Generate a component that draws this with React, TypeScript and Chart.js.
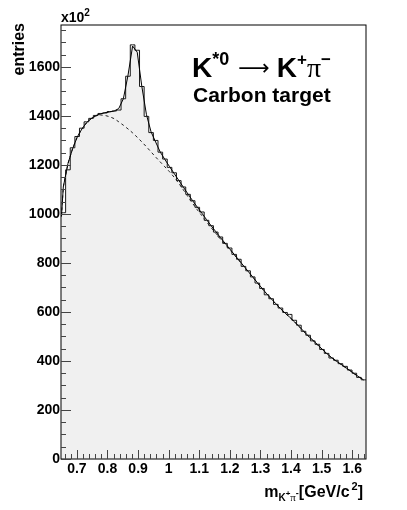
import React, { useEffect, useRef } from "react";
import { Chart, registerables } from "chart.js";

Chart.register(...registerables);

// ---- data ----
const binLow = 0.648;
const binWidth = 0.0151;
const xMin = 0.648;
const xMax = 1.645;
const yMin = 0;
const yMax = 1771;

const histValues = [
  1005, 1180, 1270, 1316, 1350, 1376, 1390, 1402, 1410, 1412,
  1418, 1420, 1424, 1470, 1562, 1690, 1668, 1520, 1398, 1332,
  1300, 1252, 1224, 1190, 1168, 1136, 1110, 1080, 1054, 1027,
  1008, 974, 952, 926, 906, 880, 861, 835, 815, 786,
  768, 743, 718, 696, 670, 654, 631, 616, 598, 590,
  566, 546, 521, 505, 482, 468, 447, 431, 412, 403,
  389, 378, 363, 350, 333, 323,
];

const fitStartMass = 0.6495;
const fitStartValue = 990;
const fitValues = [
  1110, 1205, 1266, 1313, 1346, 1372, 1389, 1401, 1408, 1413,
  1416, 1420, 1430, 1470, 1565, 1685, 1660, 1520, 1405, 1335,
  1293, 1252, 1222, 1193, 1165, 1137, 1109, 1081, 1054, 1028,
  1003, 977, 952, 928, 904, 881, 858, 835, 812, 789,
  766, 743, 720, 697, 675, 654, 634, 614, 596, 579,
  561, 542, 522, 503, 485, 467, 449, 431, 415, 401,
  388, 375, 362, 348, 335, 323,
];

const bkgValues = [
  1110, 1205, 1266, 1313, 1346, 1371, 1388, 1399, 1404, 1402,
  1397, 1389, 1376, 1362, 1347, 1331, 1313, 1294, 1274, 1253,
  1232, 1212, 1192, 1172, 1150, 1125, 1098, 1070, 1043, 1017,
  993, 968, 944, 921, 898, 877, 855, 833, 811, 788,
  765, 742, 719, 696, 674, 653, 633, 613, 595, 578,
  560, 541, 521, 502, 484, 466, 448, 430, 414, 400,
  387, 374, 361, 347, 334, 322,
];

const xMajorTicks = [0.7, 0.8, 0.9, 1.0, 1.1, 1.2, 1.3, 1.4, 1.5, 1.6];
const xTickLabels = ["0.7", "0.8", "0.9", "1", "1.1", "1.2", "1.3", "1.4", "1.5", "1.6"];
const xMinorStep = 0.02;
const yMajorTicks = [0, 200, 400, 600, 800, 1000, 1200, 1400, 1600];
const yTickLabels = ["0", "200", "400", "600", "800", "1000", "1200", "1400", "1600"];
const yMinorStep = 50;

const SANS = '"Liberation Sans", Arial, Helvetica, sans-serif';
const SERIF = '"Liberation Serif", "DejaVu Serif", serif';

type Part = { t: string; font: string; dy: number; dx?: number };

function drawParts(ctx: CanvasRenderingContext2D, parts: Part[], x: number, y: number, align: "left" | "right") {
  const widths = parts.map((p) => {
    ctx.font = p.font;
    return ctx.measureText(p.t).width + (p.dx || 0);
  });
  const total = widths.reduce((a, b) => a + b, 0);
  let cx = align === "right" ? x - total : x;
  ctx.textAlign = "left";
  ctx.textBaseline = "alphabetic";
  parts.forEach((p, i) => {
    ctx.font = p.font;
    ctx.fillText(p.t, cx + (p.dx || 0), y + p.dy);
    cx += widths[i];
  });
}

const rootStylePlugin = {
  id: "rootStyle",
  afterDraw(chart: any) {
    const ctx: CanvasRenderingContext2D = chart.ctx;
    const { left, right, top, bottom } = chart.chartArea;
    const xs = chart.scales.x;
    const ys = chart.scales.y;
    ctx.save();
    // frame
    ctx.strokeStyle = "#000";
    ctx.lineWidth = 1;
    ctx.strokeRect(left, top, right - left, bottom - top);
    // x ticks (inward)
    ctx.strokeStyle = "#444";
    ctx.beginPath();
    const start = Math.ceil(xMin / xMinorStep - 1e-6) * xMinorStep;
    for (let v = start; v <= xMax + 1e-9; v += xMinorStep) {
      const px = Math.round(xs.getPixelForValue(v)) + 0.5;
      const isMajor = xMajorTicks.some((m) => Math.abs(m - v) < 1e-6);
      const len = isMajor ? 9 : 5;
      ctx.moveTo(px, bottom);
      ctx.lineTo(px, bottom - len);
    }
    // y ticks (inward)
    for (let v = yMin; v <= yMax + 1e-9; v += yMinorStep) {
      const py = Math.round(ys.getPixelForValue(v)) + 0.5;
      const isMajor = yMajorTicks.indexOf(v) >= 0;
      const len = isMajor ? 10 : 5;
      ctx.moveTo(left, py);
      ctx.lineTo(left + len, py);
    }
    ctx.stroke();

    ctx.fillStyle = "#000";
    // x10^2
    drawParts(ctx, [
      { t: "x10", font: `bold 14px ${SANS}`, dy: 0 },
      { t: "2", font: `bold 10px ${SANS}`, dy: -6 },
    ], left, 22, "left");

    // entries (rotated)
    ctx.save();
    ctx.translate(24, 23);
    ctx.rotate(-Math.PI / 2);
    ctx.font = `bold 16px ${SANS}`;
    ctx.textAlign = "right";
    ctx.textBaseline = "alphabetic";
    ctx.fillText("entries", 0, 0);
    ctx.restore();

    // title
    drawParts(ctx, [
      { t: "K", font: `bold 28px ${SANS}`, dy: 0 },
      { t: "*0", font: `bold 18px ${SANS}`, dy: -12 },
      { t: "⟶", font: `22px "DejaVu Sans", sans-serif`, dy: -2, dx: 9 },
      { t: "K", font: `bold 28px ${SANS}`, dy: 0, dx: 7 },
      { t: "+", font: `bold 17px ${SANS}`, dy: -12 },
      { t: "π", font: `28px ${SERIF}`, dy: 0 },
      { t: "−", font: `bold 17px ${SANS}`, dy: -12 },
    ], 192, 77, "left");

    drawParts(ctx, [{ t: "Carbon target", font: `bold 21px ${SANS}`, dy: 0 }], 193, 102, "left");

    // x axis title
    drawParts(ctx, [
      { t: "m", font: `bold 16px ${SANS}`, dy: 0 },
      { t: "K", font: `bold 10px ${SANS}`, dy: 4 },
      { t: "+", font: `bold 8px ${SANS}`, dy: -1 },
      { t: "π", font: `11px ${SERIF}`, dy: 4 },
      { t: "-", font: `bold 9px ${SANS}`, dy: -1 },
      { t: "[GeV/c", font: `bold 16px ${SANS}`, dy: 0 },
      { t: "2", font: `bold 11px ${SANS}`, dy: -7, dx: 2 },
      { t: "]", font: `bold 16px ${SANS}`, dy: 0 },
    ], 363, 497, "right");

    ctx.restore();
  },
};

export default function App() {
  const canvasRef = useRef<HTMLCanvasElement | null>(null);

  useEffect(() => {
    document.body.style.margin = "0";
    const canvas = canvasRef.current;
    if (!canvas) return;

    const histData: { x: number; y: number }[] = [{ x: binLow, y: histValues[0] }];
    histValues.forEach((v, i) => histData.push({ x: binLow + (i + 0.5) * binWidth, y: v }));
    histData.push({ x: binLow + histValues.length * binWidth, y: histValues[histValues.length - 1] });

    const fitData = [{ x: fitStartMass, y: fitStartValue }].concat(
      fitValues.map((v, i) => ({ x: binLow + (i + 0.5) * binWidth, y: v }))
    );
    const bkgData = [{ x: fitStartMass, y: fitStartValue }].concat(
      bkgValues.map((v, i) => ({ x: binLow + (i + 0.5) * binWidth, y: v }))
    );

    const chart = new Chart(canvas, {
      type: "line",
      data: {
        datasets: [
          {
            label: "data",
            data: histData,
            stepped: "middle",
            borderColor: "#1a1a1a",
            borderWidth: 1,
            backgroundColor: "#f0f0f0",
            fill: "origin",
            pointRadius: 0,
            order: 3,
          },
          {
            label: "background",
            data: bkgData,
            borderColor: "#222",
            borderWidth: 1,
            borderDash: [3, 3],
            fill: false,
            pointRadius: 0,
            tension: 0,
            order: 2,
          },
          {
            label: "fit",
            data: fitData,
            borderColor: "#000",
            borderWidth: 1,
            fill: false,
            pointRadius: 0,
            tension: 0,
            order: 1,
          },
        ] as any,
      },
      options: {
        responsive: false,
        animation: false,
        devicePixelRatio: 1,
        layout: { padding: { left: 0, top: 25, right: 41, bottom: 0 } },
        plugins: {
          legend: { display: false },
          tooltip: { enabled: false },
          title: { display: false },
        },
        scales: {
          x: {
            type: "linear",
            min: xMin,
            max: xMax,
            afterFit: (s: any) => {
              s.height = 51;
            },
            afterBuildTicks: (s: any) => {
              s.ticks = xMajorTicks.map((v) => ({ value: v }));
            },
            grid: { display: false, drawTicks: false },
            border: { display: false },
            ticks: {
              autoSkip: false,
              maxRotation: 0,
              padding: 2,
              color: "#000",
              font: { family: SANS, size: 14, weight: "bold" },
              callback: (v: any) => {
                const i = xMajorTicks.findIndex((m) => Math.abs(m - v) < 1e-6);
                return i >= 0 ? xTickLabels[i] : "";
              },
            },
          },
          y: {
            type: "linear",
            min: yMin,
            max: yMax,
            afterFit: (s: any) => {
              s.width = 61;
            },
            afterBuildTicks: (s: any) => {
              s.ticks = yMajorTicks.map((v) => ({ value: v }));
            },
            grid: { display: false, drawTicks: false },
            border: { display: false },
            ticks: {
              autoSkip: false,
              padding: 1,
              color: "#000",
              font: { family: SANS, size: 14, weight: "bold" },
              callback: (v: any) => {
                const i = yMajorTicks.indexOf(v);
                return i >= 0 ? yTickLabels[i] : "";
              },
            },
          },
        },
      } as any,
      plugins: [rootStylePlugin],
    });

    return () => chart.destroy();
  }, []);

  return (
    <div style={{ position: "absolute", left: 0, top: 0, width: 407, height: 510, background: "#fff" }}>
      <canvas ref={canvasRef} width={407} height={510} style={{ display: "block" }} />
    </div>
  );
}
